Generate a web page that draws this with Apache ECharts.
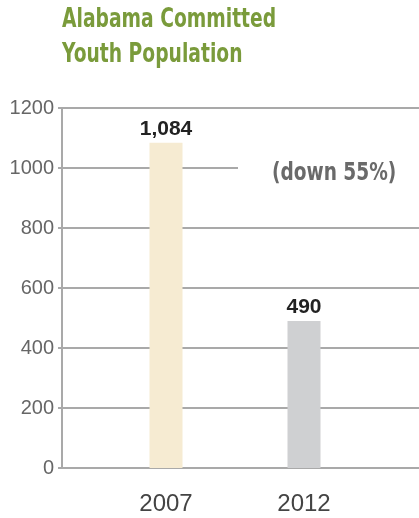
<!DOCTYPE html>
<html>
<head>
<meta charset="utf-8">
<script src="https://cdn.jsdelivr.net/npm/echarts@6/dist/echarts.min.js"></script>
<style>html,body{margin:0;padding:0;background:#fff}#c{width:419px;height:518px}</style>
</head>
<body>
<div id="c"></div>
<script>
const titleLines = ['Alabama Committed', 'Youth Population'];
const categories = ['2007', '2012'];
const values = [1084, 490];
const barColors = ['#f6ebd2', '#cfd0d2'];
const yMin = 0, yMax = 1200, yInterval = 200;
const note = '(down 55%)';
const noteAt = 1000;

const chart = echarts.init(document.getElementById('c'), null, {renderer: 'canvas'});
const gridTop = 108, gridBottom = 50;
const option = {
  animation: false,
  grid: [
    {left: 62, right: 0, top: gridTop, bottom: gridBottom},
    {left: 97, width: 276, top: gridTop, bottom: gridBottom}
  ],
  xAxis: [
    {type: 'value', gridIndex: 0, min: 0, max: 1, axisLabel: {show: false}, axisTick: {show: false}, splitLine: {show: false},
     axisLine: {show: true, lineStyle: {color: '#a9a9a9', width: 2}}},
    {type: 'category', gridIndex: 1, data: categories, axisLine: {show: false}, axisTick: {show: false},
     axisLabel: {margin: 24, fontSize: 24, color: '#444', fontFamily: "'Liberation Sans', Arial, sans-serif"}}
  ],
  yAxis: [
    {type: 'value', gridIndex: 0, min: yMin, max: yMax, interval: yInterval,
     axisLine: {show: true, lineStyle: {color: '#a9a9a9', width: 2}},
     axisTick: {show: true, length: 4, lineStyle: {color: '#a9a9a9', width: 2}},
     splitLine: {show: true, lineStyle: {color: '#a9a9a9', width: 2}},
     axisLabel: {margin: 8, fontSize: 20, color: '#666', fontFamily: "'Liberation Sans', Arial, sans-serif",
       formatter: v => String(v)}},
    {type: 'value', gridIndex: 1, min: yMin, max: yMax, interval: yInterval, show: false}
  ],
  series: [{
    type: 'bar', xAxisIndex: 1, yAxisIndex: 1, barWidth: 33,
    data: values.map((v, i) => ({value: v, itemStyle: {color: barColors[i]}})),
    label: {show: true, position: 'top', distance: 3, fontSize: 21, fontWeight: 'bold', color: '#222',
      fontFamily: "'Liberation Sans', Arial, sans-serif",
      formatter: p => p.value.toLocaleString('en-US')}
  }]
};
chart.setOption(option);
const yNote = chart.convertToPixel({yAxisIndex: 0}, noteAt);
chart.setOption({
  graphic: [
    {type: 'text', x: 62, y: 3, scaleX: 0.8, z: 11,
     style: {text: titleLines.join('\n'), font: "bold 26px 'DejaVu Sans Condensed', sans-serif",
             lineHeight: 35, fill: '#7a9b3b', textVerticalAlign: 'top'}},
    {type: 'rect', left: 238, top: yNote - 4, shape: {width: 181, height: 8}, style: {fill: '#fff'}, z: 10},
    {type: 'text', x: 272, y: yNote - 6, scaleX: 0.86, z: 11,
     style: {text: note, font: "bold 24px 'DejaVu Sans Condensed', sans-serif", fill: '#6a6a6a', textVerticalAlign: 'top'}}
  ]
});
</script>
</body>
</html>
